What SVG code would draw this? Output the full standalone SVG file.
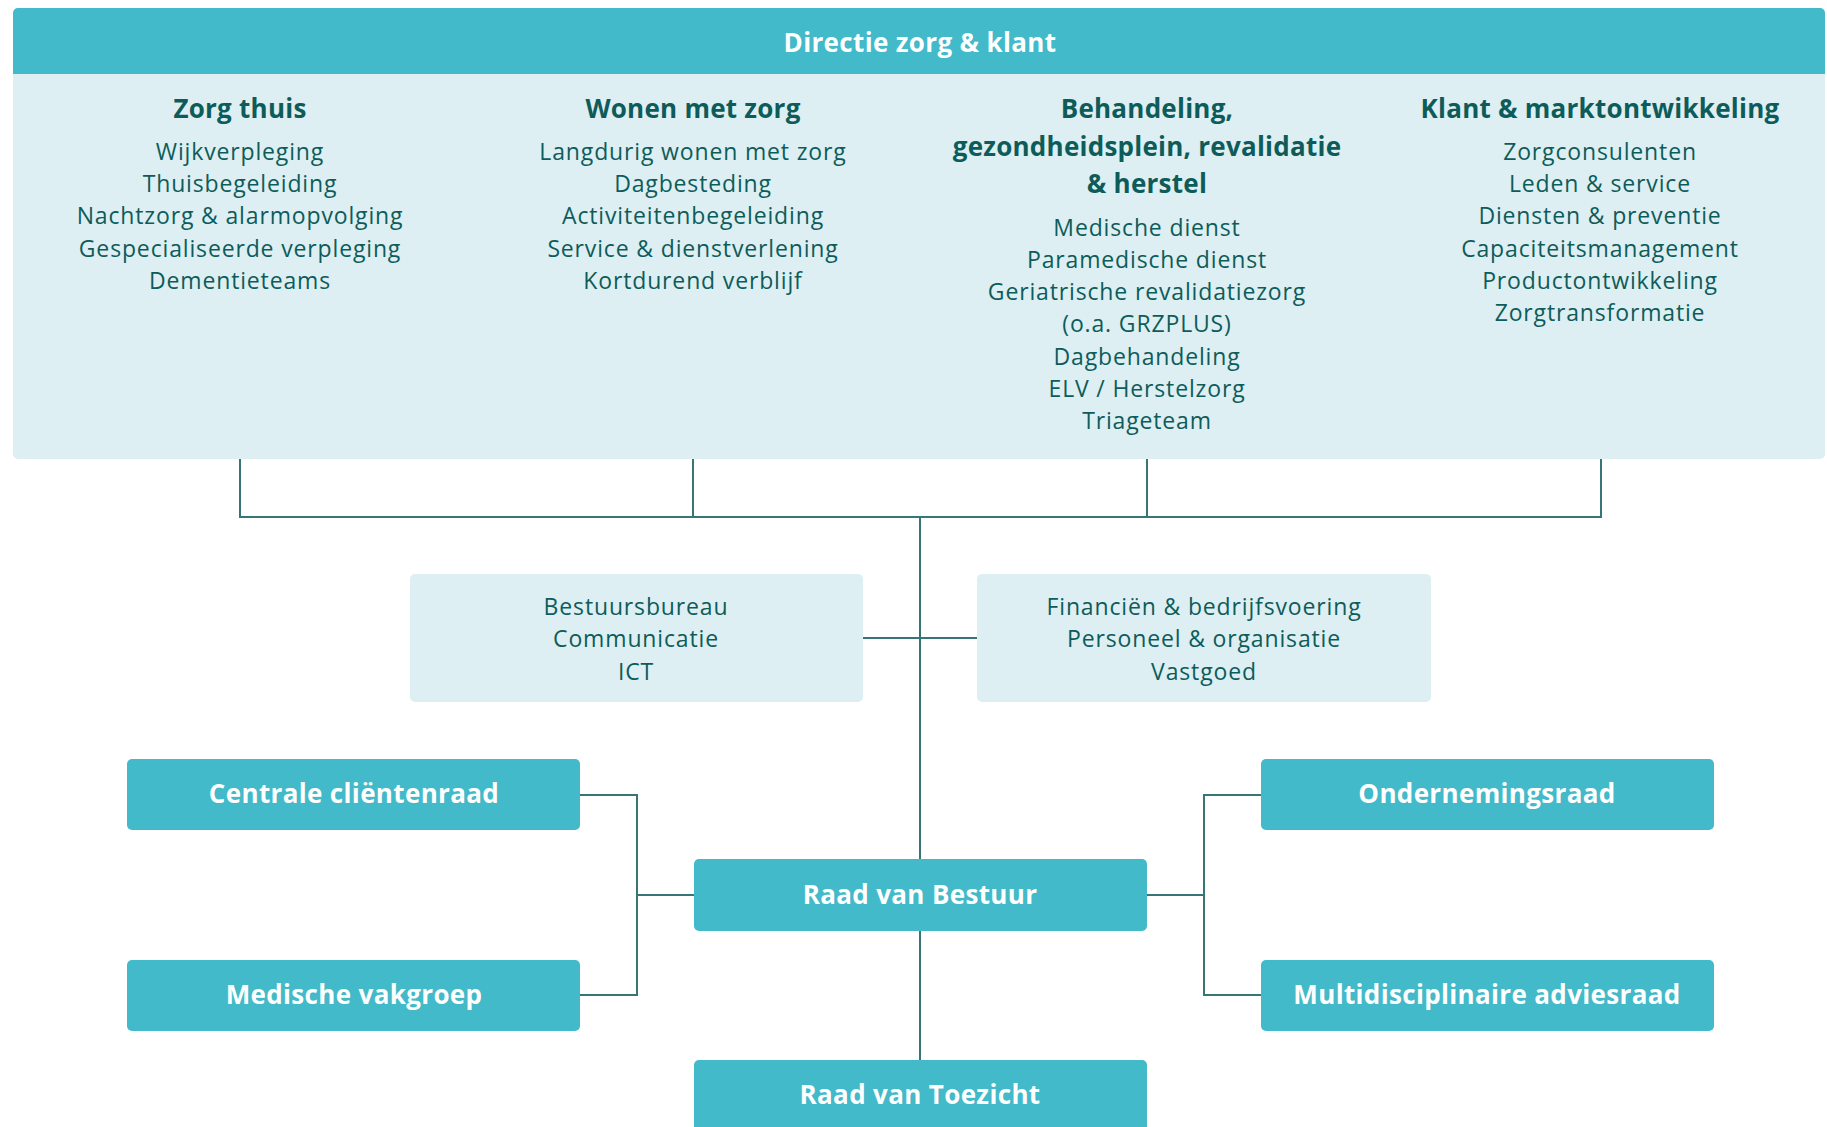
<svg xmlns="http://www.w3.org/2000/svg" width="1827" height="1127" viewBox="0 0 1827 1127">
<style>
.panel{fill:#ddeff3}
.teal{fill:#42bac9}
.t{font-family:"Open Sans","Noto Sans",sans-serif;font-size:23px;fill:#0e5c5a;text-anchor:middle;letter-spacing:0.85px}
.h{font-family:"Open Sans","Noto Sans",sans-serif;font-size:26px;font-weight:700;fill:#0e5c5a;text-anchor:middle;letter-spacing:0.25px}
.w{font-family:"Open Sans","Noto Sans",sans-serif;font-size:26px;font-weight:700;fill:#ffffff;text-anchor:middle;letter-spacing:0.35px}
.c{fill:none;stroke:#367676;stroke-width:2}
</style>
<rect width="1827" height="1127" fill="#ffffff"/>
<g id="connectors">
<path class="c" d="M240 459V517H1601V459M693 459V517M1147 459V517"/>
<path class="c" d="M920 517V859M920 931V1060"/>
<path class="c" d="M863 638H977"/>
<path class="c" d="M580 795H637V995H580M637 895H694"/>
<path class="c" d="M1147 895H1204M1261 795H1204V995H1261"/>
</g>
<g id="directie">
<rect class="panel" x="13" y="8" width="1812" height="451" rx="5"/>
<path class="teal" d="M18 8H1820A5 5 0 0 1 1825 13V74H13V13A5 5 0 0 1 18 8Z"/>
<text class="w" x="920" y="52">Directie zorg &amp; klant</text>
</g>
<g id="zorg-thuis">
<text class="h" x="240" y="118">Zorg thuis</text>
<text class="t" x="240" y="160">Wijkverpleging</text>
<text class="t" x="240" y="192">Thuisbegeleiding</text>
<text class="t" x="240" y="224">Nachtzorg &amp; alarmopvolging</text>
<text class="t" x="240" y="257">Gespecialiseerde verpleging</text>
<text class="t" x="240" y="289">Dementieteams</text>
</g>
<g id="wonen-met-zorg">
<text class="h" x="693" y="118">Wonen met zorg</text>
<text class="t" x="693" y="160">Langdurig wonen met zorg</text>
<text class="t" x="693" y="192">Dagbesteding</text>
<text class="t" x="693" y="224">Activiteitenbegeleiding</text>
<text class="t" x="693" y="257">Service &amp; dienstverlening</text>
<text class="t" x="693" y="289">Kortdurend verblijf</text>
</g>
<g id="behandeling">
<text class="h" x="1147" y="118">Behandeling,</text>
<text class="h" x="1147" y="156">gezondheidsplein, revalidatie</text>
<text class="h" x="1147" y="193">&amp; herstel</text>
<text class="t" x="1147" y="236">Medische dienst</text>
<text class="t" x="1147" y="268">Paramedische dienst</text>
<text class="t" x="1147" y="300">Geriatrische revalidatiezorg</text>
<text class="t" x="1147" y="332">(o.a. GRZPLUS)</text>
<text class="t" x="1147" y="365">Dagbehandeling</text>
<text class="t" x="1147" y="397">ELV / Herstelzorg</text>
<text class="t" x="1147" y="429">Triageteam</text>
</g>
<g id="klant">
<text class="h" x="1600" y="118">Klant &amp; marktontwikkeling</text>
<text class="t" x="1600" y="160">Zorgconsulenten</text>
<text class="t" x="1600" y="192">Leden &amp; service</text>
<text class="t" x="1600" y="224">Diensten &amp; preventie</text>
<text class="t" x="1600" y="257">Capaciteitsmanagement</text>
<text class="t" x="1600" y="289">Productontwikkeling</text>
<text class="t" x="1600" y="321">Zorgtransformatie</text>
</g>
<g id="bestuursbureau">
<rect class="panel" x="410" y="574" width="453" height="128" rx="5"/>
<text class="t" x="636" y="615">Bestuursbureau</text>
<text class="t" x="636" y="647">Communicatie</text>
<text class="t" x="636" y="680">ICT</text>
</g>
<g id="financien">
<rect class="panel" x="977" y="574" width="454" height="128" rx="5"/>
<text class="t" x="1204" y="615">Financiën &amp; bedrijfsvoering</text>
<text class="t" x="1204" y="647">Personeel &amp; organisatie</text>
<text class="t" x="1204" y="680">Vastgoed</text>
</g>
<g id="centrale-clientenraad">
<rect class="teal" x="127" y="759" width="453" height="71" rx="5"/>
<text class="w" x="354" y="803">Centrale cliëntenraad</text>
</g>
<g id="medische-vakgroep">
<rect class="teal" x="127" y="960" width="453" height="71" rx="5"/>
<text class="w" x="354" y="1004">Medische vakgroep</text>
</g>
<g id="raad-van-bestuur">
<rect class="teal" x="694" y="859" width="453" height="72" rx="5"/>
<text class="w" x="920" y="904">Raad van Bestuur</text>
</g>
<g id="ondernemingsraad">
<rect class="teal" x="1261" y="759" width="453" height="71" rx="5"/>
<text class="w" x="1487" y="803">Ondernemingsraad</text>
</g>
<g id="multidisciplinaire-adviesraad">
<rect class="teal" x="1261" y="960" width="453" height="71" rx="5"/>
<text class="w" x="1487" y="1004">Multidisciplinaire adviesraad</text>
</g>
<g id="raad-van-toezicht">
<rect class="teal" x="694" y="1060" width="453" height="80" rx="5"/>
<text class="w" x="920" y="1104">Raad van Toezicht</text>
</g>
</svg>
